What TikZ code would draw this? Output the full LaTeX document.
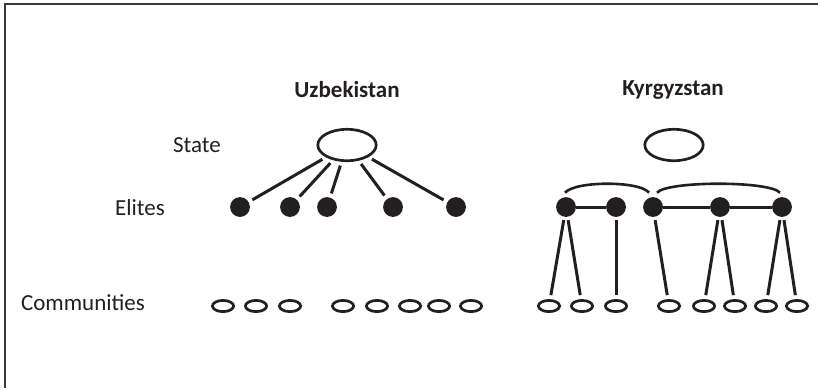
\documentclass[tikz,border=0pt]{standalone}
\usepackage{fontspec}
\setmainfont{Carlito}
\usetikzlibrary{shapes.geometric}
\definecolor{inkc}{HTML}{231F20}
\definecolor{framec}{HTML}{3A3A3A}
\begin{document}
\begin{tikzpicture}[x=0.5pt,y=-0.5pt,
  statebox/.style={ellipse, draw=inkc, line width=1.35pt, minimum width=29.2pt, minimum height=15.7pt, inner sep=0pt},
  elite/.style={circle, fill=inkc, minimum size=9.9pt, inner sep=0pt},
  comm/.style={ellipse, draw=inkc, line width=1.35pt, minimum width=10.6pt, minimum height=5.6pt, inner sep=0pt},
  lbl/.style={font=\fontsize{11.5}{13}\selectfont, inner sep=0pt, text=inkc},
  ttl/.style={font=\fontsize{11.5}{13}\selectfont\bfseries, inner sep=0pt, text=inkc},
  link/.style={draw=inkc, line width=1.5pt, shorten <=2pt, shorten >=2pt},
  tie/.style={draw=inkc, line width=1.5pt},
  arcl/.style={draw=inkc, line width=1.3pt}]
\useasboundingbox (0,0) rectangle (818,388);
\draw[draw=framec, line width=0.8pt] (5,388) -- (5,4) -- (818,4);
% labels
\node[lbl] (lstate) at (197,145) {State};
\node[lbl] (lelite) at (140,208) {Elites};
\node[lbl] (lcomm) at (83,303) {Communities};
\node[ttl] (tuz) at (347,90) {Uzbekistan};
\node[ttl] (tky) at (673,90) {Kyrgyzstan};
% Uzbekistan
\node[statebox] (us) at (347,145) {};
\foreach \n/\x in {1/240,2/290,3/327,4/393,5/456}{
  \node[elite] (ue\n) at (\x,207) {};
  \draw[link] (us) -- (ue\n);
}
\foreach \n/\x in {1/223,2/256,3/290,4/343,5/377,6/410,7/439,8/471}{
  \node[comm] (uc\n) at (\x,306) {};
}
% Kyrgyzstan
\node[statebox] (ks) at (674,145) {};
\foreach \n/\x in {1/566,2/616,3/653,4/720,5/782}{
  \node[elite] (ke\n) at (\x,207) {};
}
\foreach \n/\x in {1/549,2/582,3/616,4/669,5/704,6/735,7/766,8/797}{
  \node[comm] (kc\n) at (\x,306) {};
}
\draw[tie] (ke1) -- (ke2);
\draw[tie] (ke3) -- (ke4);
\draw[tie] (ke4) -- (ke5);
\draw[arcl] ([shift={(-1,-4)}]ke1.north) .. controls +(10,-12) and +(-9,-12) .. ([shift={(-4,-4)}]ke3.north);
\draw[arcl] ([shift={(4,-4)}]ke3.north) .. controls +(10,-12) and +(-10,-12) .. ([shift={(-2,-4)}]ke5.north);
\foreach \a/\b in {ke1/kc1,ke1/kc2,ke2/kc3,ke3/kc4,ke4/kc5,ke4/kc6,ke5/kc7,ke5/kc8}{
  \draw[link, shorten <=1.5pt] (\a) -- (\b);
}
\end{tikzpicture}
\end{document}
